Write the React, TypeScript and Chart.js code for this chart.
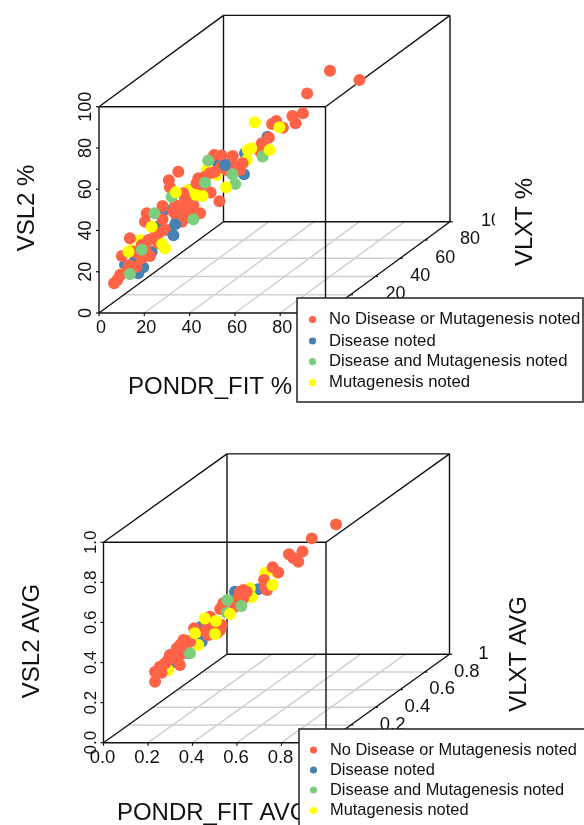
import React, { useEffect, useRef } from "react";
import { Chart, registerables } from "chart.js";

Chart.register(...registerables);

type P3 = number[];

const seriesNames = [
  "No Disease or Mutagenesis noted",
  "Disease noted",
  "Disease and Mutagenesis noted",
  "Mutagenesis noted",
];
const seriesColors = ["#FF6347", "#4682B4", "#7CCD7C", "#FFFF00"];

// Top panel: [PONDR_FIT %, VLXT %, VSL2 %]
const pctNoDisease: P3[] = [
  [4.3,4.3,12.5],[5.2,5.2,13.7],[6,6,15.8],[8.6,8.6,19.4],[8.8,8.8,15.4],[6.5,6.5,24.8],[9.8,9.8,25.4],[8.8,8.8,32.3],
  [12.2,12.2,21.1],[14.5,14.5,21.2],[13.1,13.1,26.3],[14.1,14.1,29.1],[16.9,16.9,31.2],[18.8,18.8,31.9],[20.2,20.2,31.3],
  [18.1,18.1,37.4],[13.1,13.1,38.4],[13.6,13.6,42.3],[18.1,18.1,43.9],[21.7,21.7,42.8],[22.6,22.6,39.9],[24.5,24.5,44.7],
  [26.9,26.9,40.4],[25.9,25.9,34.9],[28.8,28.8,35.6],[25,25,36.5],[22.6,22.6,58.5],[19.9,19.9,55.6],[20.2,20.2,52],
  [28.3,28.3,52.8],[27.8,27.8,50.6],[31.8,31.8,44.3],[34.3,34.3,39],[32.8,32.8,62.1],[34.9,34.9,61],[38.1,38.1,59.2],
  [40.9,40.9,54.5],[39.2,39.2,53.6],[36.4,36.4,53.2],[33,33,53.9],[31.6,31.6,53.7],[38.3,38.3,51.5],[23.6,23.6,33.8],
  [65.8,65.8,88.3],[74.2,74.2,80.1],[59.3,59.3,80.1],[55.1,55.1,71.1],[58.1,58.1,71.1],[56,56,67.2],[52.4,52.4,66.6],
  [50.5,50.5,70.7],[49.3,49.3,69.8],[48.4,48.4,63.5],[46.4,46.4,61.7],[45.8,45.8,58.3],
  [7.9,7.9,16.5],[10.7,10.7,17.7],[11.7,11.7,22.9],[13.6,13.6,22.9],[15.9,15.9,30],[22.1,22.1,36.9],[24,24,40.1],
  [25.9,25.9,42.5],[28.8,28.8,48.5],[21.2,21.2,39.7],[30.2,30.2,52.7],[34.9,34.9,55.5],[40.2,40.2,51.5],[37.3,37.3,56],
  [24,24,47.4],[26.9,26.9,38],[16.9,16.9,26.3],[12.2,12.2,27.6],
];
const pctDisease: P3[] = [
  [11.2,11.2,14.3],[12.6,12.6,16.6],[7.4,7.4,20],[18.8,18.8,41.9],[16.9,16.9,34.4],[10.7,10.7,21.8],[15,15,23.1],
  [34,34,57.5],[41.3,41.3,49],[41.6,41.6,59],[25.9,25.9,48.2],[30.2,30.2,49.5],[10.3,10.3,21.1],[48,48,64.2],
];
const pctDiseaseFront: P3[] = [[21.2,21.2,28.3],[21.7,21.7,33.4],[35.9,35.9,55.8]];
const pctBoth: P3[] = [
  [8.8,8.8,15],[31.1,31.1,60.1],[38,38,50.4],[38.8,38.8,45.4],[15.8,15.8,41.3],[20.7,20.7,47.2],[26.9,26.9,33.5],
  [30.2,30.2,49.8],[12.2,12.2,25.2],[46.6,46.6,55.2],
];
const pctMutagenesisBack: P3[] = [
  [18.8,18.8,23],[11.9,11.9,30.1],[9.3,9.3,26.4],[6.2,6.2,16.1],[25.5,25.5,48.3],[33.5,33.5,52.1],[30.7,30.7,55.7],
  [42.1,42.1,55.5],[22.6,22.6,39.1],
];
const pctMutagenesisFront: P3[] = [
  [21.9,21.9,48.8],[27.6,27.6,45],[29.5,29.5,43.7],[36.2,36.2,44.9],[18,18,25.5],[15,15,35.2],[8.4,8.4,26],
  [44.4,44.4,72.8],[51.4,51.4,67.3],[48.6,48.6,57.5],[42.4,42.4,60.3],[43.4,43.4,60.6],
];

// Bottom panel: [PONDR_FIT AVG, VLXT AVG, VSL2 AVG]
const avgNoDisease: P3[] = [
  [.672,.672,.793],[.602,.602,.754],[.575,.575,.7],[.536,.536,.704],[.549,.549,.678],[.563,.563,.655],[.489,.489,.66],
  [.505,.505,.626],[.464,.464,.607],[.473,.473,.553],[.395,.395,.579],[.414,.414,.571],[.404,.404,.542],[.38,.38,.511],
  [.337,.337,.518],[.308,.308,.493],[.298,.298,.456],[.337,.337,.414],[.262,.262,.455],[.303,.303,.404],[.24,.24,.403],
  [.221,.221,.39],[.212,.212,.378],[.226,.226,.346],[.192,.192,.353],[.178,.178,.318],[.221,.221,.29],[.149,.149,.288],
  [.168,.168,.275],[.149,.149,.239],[.325,.325,.436],
  [.202,.202,.34],[.231,.231,.361],[.207,.207,.355],[.25,.25,.394],[.231,.231,.411],[.313,.313,.458],[.342,.342,.437],
  [.327,.327,.402],[.293,.293,.425],[.39,.39,.553],[.404,.404,.584],[.385,.385,.526],[.346,.346,.543],[.163,.163,.307],
  [.187,.187,.33],[.216,.216,.334],[.467,.467,.572],
];
const avgDisease: P3[] = [
  [.447,.447,.568],[.284,.284,.379],[.197,.197,.312],[.284,.284,.454],[.38,.38,.586],[.245,.245,.338],
];
const avgBoth: P3[] = [[.358,.358,.554],[.399,.399,.506],[.356,.356,.492],[.25,.25,.336]];
const avgMutagenesisBack: P3[] = [
  [.467,.467,.642],[.502,.502,.627],[.423,.423,.584],[.428,.428,.537],[.231,.231,.389],[.187,.187,.28],[.274,.274,.367],
];
const avgMutagenesisFront: P3[] = [
  [.293,.293,.49],[.325,.325,.464],[.264,.264,.43],[.322,.322,.4],[.366,.366,.481],[.488,.488,.572],
];

const pctTicks = [0, 20, 40, 60, 80, 100];
const pctTickLabels = ["0", "20", "40", "60", "80", "100"];
const avgTicks = [0, 0.2, 0.4, 0.6, 0.8, 1];
const avgAxisLabels = ["0.0", "0.2", "0.4", "0.6", "0.8", "1.0"];
const avgDepthLabels = ["0.0", "0.2", "0.4", "0.6", "0.8", "1"];

const panels = [
  {
    top: 0, height: 412, span: 100,
    origin: [99, 313], xv: [226.5, 0], yv: [124.5, -91.3], zv: [0, -206.3],
    ticks: pctTicks, xl: pctTickLabels, yl: pctTickLabels, zl: pctTickLabels,
    xLabelOff: [2, 15], yLabelDx: [45, 45, 45, 45, 45, 46], zLabelX: 86,
    tickFont: "18px 'Liberation Sans'", zFont: "18px 'Liberation Sans'",
    titles: { x: "PONDR_FIT %", y: "VLXT %", z: "VSL2 %" },
    xTitle: [210, 387], yTitle: [525, 222], zTitle: [27, 208],
    yClip: 495,
    legend: { x: 297, y: 298, w: 286, h: 104, rows: [319.5, 341, 361.7, 382.7], mx: 312.5, tx: 329, font: "16.7px 'Liberation Sans'" },
    sets: [pctDisease, pctMutagenesisBack, pctNoDisease, pctBoth, pctDiseaseFront, pctMutagenesisFront],
  },
  {
    top: 412, height: 413, span: 1,
    origin: [103.5, 742.7], xv: [222.5, 0], yv: [123.5, -88.4], zv: [0, -200.4],
    ticks: avgTicks, xl: avgAxisLabels, yl: avgDepthLabels, zl: avgAxisLabels,
    xLabelOff: [-1, 15], yLabelDx: [42, 42, 42, 42, 42, 34], zLabelX: 91,
    tickFont: "18.5px 'Liberation Sans'", zFont: "17px 'Liberation Sans'",
    titles: { x: "PONDR_FIT AVG", y: "VLXT AVG", z: "VSL2 AVG" },
    xTitle: [212.7, 813], yTitle: [519.5, 654], zTitle: [32, 641],
    yClip: 600,
    legend: { x: 299, y: 729, w: 320, h: 130, rows: [750, 770, 790, 810.5], mx: 313.5, tx: 330, font: "16.4px 'Liberation Sans'" },
    sets: [avgDisease, avgMutagenesisBack, avgNoDisease, avgBoth, [] as P3[], avgMutagenesisFront],
  },
];

type PanelCfg = (typeof panels)[number];

function makeConfig(p: PanelCfg): any {
  const project = (a: number, b: number, c: number) => ({
    x: p.origin[0] + (a / p.span) * p.xv[0] + (b / p.span) * p.yv[0] + (c / p.span) * p.zv[0],
    y: p.origin[1] + (a / p.span) * p.xv[1] + (b / p.span) * p.yv[1] + (c / p.span) * p.zv[1],
  });
  const s = p.span;
  const line = (pts: { x: number; y: number }[], color: string, width: number, order: number) => ({
    type: "scatter", data: pts, showLine: true, borderColor: color, borderWidth: width,
    pointRadius: 0, order, clip: false, label: "",
  });
  const edges: number[][][] = [
    [[0,0,0],[s,0,0]],[[0,0,0],[0,0,s]],[[s,0,0],[s,0,s]],[[0,0,s],[s,0,s]],
    [[0,s,0],[s,s,0]],[[0,s,0],[0,s,s]],[[s,s,0],[s,s,s]],[[0,s,s],[s,s,s]],
    [[0,0,0],[0,s,0]],[[s,0,0],[s,s,0]],[[0,0,s],[0,s,s]],[[s,0,s],[s,s,s]],
  ];
  const datasets: any[] = [];
  const inner = p.ticks.slice(1, -1);
  inner.forEach((t) => {
    datasets.push(line([project(t, 0, 0), project(t, s, 0)], "#cfcfcf", 1.5, 100));
    datasets.push(line([project(0, t, 0), project(s, t, 0)], "#cfcfcf", 1.5, 100));
  });
  edges.forEach((e) =>
    datasets.push(line([project(e[0][0], e[0][1], e[0][2]), project(e[1][0], e[1][1], e[1][2])], "#111111", 1.4, 90))
  );
  const tick = s * 0.012;
  p.ticks.forEach((t) => {
    datasets.push(line([project(t, 0, 0), { x: project(t, 0, 0).x, y: project(t, 0, 0).y + 3 }], "#111111", 1.2, 90));
    datasets.push(line([project(0, 0, t), { x: project(0, 0, t).x - 3, y: project(0, 0, t).y }], "#111111", 1.2, 90));
    datasets.push(line([project(s, t, 0), project(s + tick, t, 0)], "#111111", 1.2, 90));
  });
  const layerColor = [1, 3, 0, 2, 1, 3];
  const layerOrder = [50, 45, 40, 30, 25, 20];
  p.sets.forEach((set, i) => {
    datasets.push({
      type: "scatter",
      label: seriesNames[layerColor[i]],
      data: set.map((v) => project(v[0], v[1], v[2])),
      backgroundColor: seriesColors[layerColor[i]],
      borderWidth: 0,
      pointRadius: 6,
      order: layerOrder[i],
      clip: false,
    });
  });

  const textPlugin = {
    id: "panelText",
    afterDatasetsDraw(chart: any) {
      const { ctx, scales } = chart;
      const px = (v: number) => scales.x.getPixelForValue(v);
      const py = (v: number) => scales.y.getPixelForValue(v);
      const text = (t: string, x: number, y: number, font: string, rot = false) => {
        ctx.save();
        ctx.translate(px(x), py(y));
        if (rot) ctx.rotate(-Math.PI / 2);
        ctx.font = font;
        ctx.fillStyle = "#111111";
        ctx.textAlign = "center";
        ctx.textBaseline = "middle";
        ctx.fillText(t, 0, 0);
        ctx.restore();
      };
      p.ticks.forEach((t, i) => {
        const a = project(t, 0, 0);
        text(p.xl[i], a.x + p.xLabelOff[0], a.y + p.xLabelOff[1], p.tickFont);
        const c = project(0, 0, t);
        text(p.zl[i], p.zLabelX, c.y, p.zFont, true);
        const b = project(s, t, 0);
        ctx.save();
        ctx.beginPath();
        ctx.rect(0, 0, px(p.yClip), chart.height);
        ctx.clip();
        text(p.yl[i], b.x + p.yLabelDx[i], b.y - 0.5, p.tickFont);
        ctx.restore();
      });
      const titleFont = "24px 'Liberation Sans'";
      text(p.titles.x, p.xTitle[0], p.xTitle[1], titleFont);
      text(p.titles.y, p.yTitle[0], p.yTitle[1], titleFont, true);
      text(p.titles.z, p.zTitle[0], p.zTitle[1], titleFont, true);

      const L = p.legend;
      ctx.save();
      ctx.fillStyle = "#ffffff";
      ctx.strokeStyle = "#222222";
      ctx.lineWidth = 1.5;
      ctx.fillRect(px(L.x), py(L.y), L.w, L.h);
      ctx.strokeRect(px(L.x), py(L.y), L.w, L.h);
      seriesNames.forEach((name, i) => {
        ctx.beginPath();
        ctx.arc(px(L.mx), py(L.rows[i]), 3.6, 0, Math.PI * 2);
        ctx.fillStyle = seriesColors[i];
        ctx.fill();
        ctx.font = L.font;
        ctx.fillStyle = "#111111";
        ctx.textAlign = "left";
        ctx.textBaseline = "middle";
        ctx.fillText(name, px(L.tx), py(L.rows[i]));
      });
      ctx.restore();
    },
  };

  return {
    type: "scatter",
    data: { datasets },
    plugins: [textPlugin],
    options: {
      animation: false,
      responsive: false,
      layout: { padding: 0, autoPadding: false },
      plugins: { legend: { display: false }, tooltip: { enabled: false } },
      scales: {
        x: { type: "linear", display: false, min: 0, max: 584 },
        y: { type: "linear", display: false, reverse: true, min: p.top, max: p.top + p.height },
      },
    },
  };
}

function Panel({ cfg }: { cfg: PanelCfg }) {
  const ref = useRef<HTMLCanvasElement | null>(null);
  useEffect(() => {
    const chart = new Chart(ref.current as HTMLCanvasElement, makeConfig(cfg));
    return () => chart.destroy();
  }, [cfg]);
  return (
    <canvas
      ref={ref}
      width={584}
      height={cfg.height}
      style={{ position: "absolute", left: 0, top: cfg.top, width: 584, height: cfg.height, display: "block" }}
    />
  );
}

export default function App() {
  return (
    <div style={{ position: "absolute", left: 0, top: 0, width: 584, height: 825, overflow: "hidden", background: "#fff" }}>
      {panels.map((p) => (
        <Panel key={p.top} cfg={p} />
      ))}
    </div>
  );
}
